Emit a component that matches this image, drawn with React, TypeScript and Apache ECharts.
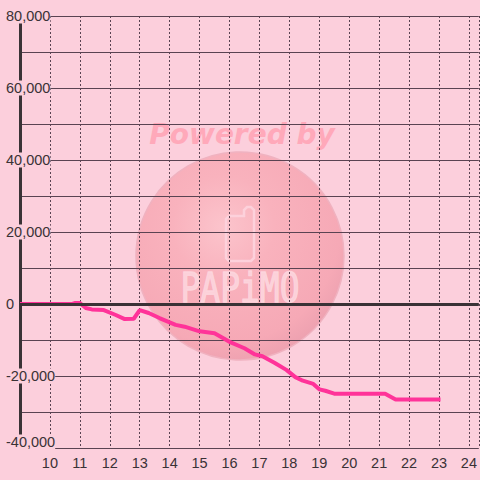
import React, { useEffect, useRef } from "react";
import * as echarts from "echarts";

// hour of day
const hours: number[] = [
  9, 10.75, 10.85, 11.0, 11.2, 11.4, 11.8, 12.2, 12.5, 12.8, 13.0, 13.3, 13.66,
  14.2, 14.5, 15.0, 15.5, 16.0, 16.5, 16.85, 17.1, 17.5, 17.9, 18.2, 18.45,
  18.8, 19.0, 19.2, 19.5, 21.2, 21.55, 23.05,
];
// cumulative balance
const balance: number[] = [
  0, 0, 300, 300, -1100, -1500, -1700, -3050, -4200, -4100, -1700, -2500, -3900,
  -5800, -6300, -7600, -8100, -10500, -12300, -14000, -14500, -16300, -18300,
  -20300, -21300, -22200, -23700, -24100, -24900, -24900, -26500, -26500,
];
const xTicks = { min: 9, max: 24.33, interval: 1 };
const yTicks = { min: -40000, max: 80000, interval: 20000 };

const BG = "#fccfdc";
const DARK = "#3a3236";
const GRIDC = "#5a4352";

export default function App() {
  const ref = useRef<HTMLDivElement>(null);
  useEffect(() => {
    if (!ref.current) return;
    const chart = echarts.init(ref.current, null, { renderer: "svg" });
    const data = hours.map((h, i) => [h, balance[i]]);
    chart.setOption({
      animation: false,
      backgroundColor: BG,
      grid: { left: 20, right: 0, top: 16, bottom: 32 },
      graphic: [
        {
          type: "circle",
          z: -10,
          shape: { cx: 240, cy: 256, r: 104 },
          style: {
            fill: new echarts.graphic.RadialGradient(0.42, 0.36, 0.7, [
              { offset: 0, color: "#fcc4cc" },
              { offset: 0.35, color: "#f9b2bd" },
              { offset: 0.8, color: "#f6a9b6" },
              { offset: 0.95, color: "#eda1b0" },
              { offset: 1, color: "#eda1b0" },
            ]),
            stroke: "#f0b2c0",
            lineWidth: 1.5,
          },
        },
        {
          type: "polyline",
          z: -9,
          shape: {
            points: [
              [229, 216], [244, 216], [244, 210], [247, 207], [251, 207], [254, 210],
              [254, 258], [251, 261], [229, 261], [226, 258], [226, 219], [229, 216],
            ],
          },
          style: { stroke: "rgba(253,210,220,0.95)", lineWidth: 2.5, fill: null },
        },
        {
          type: "text",
          z: -9,
          x: 240,
          y: 288,
          scaleY: 1.25,
          style: {
            text: "PAPiMO",
            fontFamily: "DejaVu Sans Mono",
            fontSize: 33,
            fill: "rgba(253,214,222,0.9)",
            stroke: "rgba(253,214,222,0.9)",
            lineWidth: 1,
            align: "center",
            verticalAlign: "middle",
          },
        },
        {
          type: "text",
          z: -9,
          x: 242,
          y: 134,
          style: {
            text: "Powered by",
            fontFamily: "DejaVu Sans",
            fontWeight: "bold",
            fontStyle: "italic",
            fontSize: 28,
            fill: "#ffa9ba",
            align: "center",
            verticalAlign: "middle",
          },
        },
      ],
      xAxis: {
        type: "value",
        min: xTicks.min,
        max: xTicks.max,
        interval: xTicks.interval,
        axisLine: { show: false },
        axisTick: { show: false },
        axisLabel: {
          showMinLabel: false,
          margin: 7,
          color: DARK,
          fontFamily: "Liberation Sans",
          fontSize: 14.5,
        },
        splitLine: {
          show: true,
          lineStyle: { color: GRIDC, width: 1, type: [2, 2] },
        },
      },
      yAxis: {
        type: "value",
        min: yTicks.min,
        max: yTicks.max,
        interval: yTicks.interval,
        axisLine: { show: true, lineStyle: { color: DARK, width: 3 } },
        axisTick: { show: false },
        axisLabel: {
          align: "left",
          margin: 14,
          color: DARK,
          fontFamily: "Liberation Sans",
          fontSize: 14.5,
          backgroundColor: BG,
          formatter: (v: number) =>
            v === yTicks.min
              ? "{m|" + v.toLocaleString("en-US") + "}"
              : v.toLocaleString("en-US"),
          rich: {
            m: {
              color: DARK,
              fontFamily: "Liberation Sans",
              fontSize: 14.5,
              padding: [0, 0, 12, 0],
            },
          },
        },
        splitLine: { show: true, lineStyle: { color: GRIDC, width: 1 } },
        minorTick: { show: false, splitNumber: 2 },
        minorSplitLine: { show: true, lineStyle: { color: GRIDC, width: 1 } },
      },
      series: [
        {
          type: "line",
          name: "zero",
          data: [],
          z: 1,
          silent: true,
          markLine: {
            silent: true,
            symbol: "none",
            label: { show: false },
            lineStyle: { color: DARK, width: 3, type: "solid" },
            data: [{ yAxis: 0 }],
          },
        },
        {
          type: "line",
          data,
          showSymbol: false,
          symbol: "none",
          lineStyle: { color: "#ff3399", width: 4 },
          itemStyle: { color: "#ff3399" },
          z: 3,
        },
      ],
    });
    return () => chart.dispose();
  }, []);
  return <div ref={ref} style={{ width: 480, height: 480, position: "absolute", left: 0, top: 0 }} />;
}
